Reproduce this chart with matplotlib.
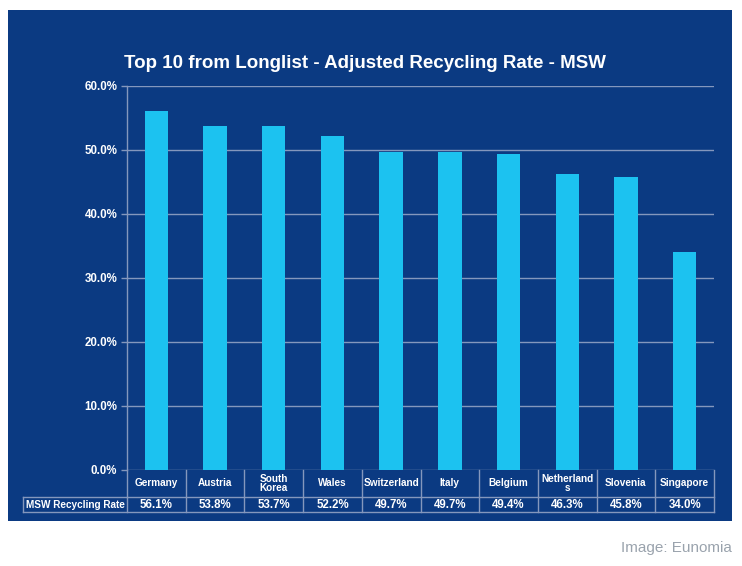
import matplotlib.pyplot as plt
from matplotlib.patches import Rectangle
import matplotlib.transforms as mtransforms

# data
countries = ['Germany', 'Austria', 'South\nKorea', 'Wales', 'Switzerland', 'Italy',
             'Belgium', 'Netherland\ns', 'Slovenia', 'Singapore']
rates = [56.1, 53.8, 53.7, 52.2, 49.7, 49.7, 49.4, 46.3, 45.8, 34.0]
yticks = [0, 10, 20, 30, 40, 50, 60]
row_label = 'MSW Recycling Rate'
title = 'Top 10 from Longlist - Adjusted Recycling Rate - MSW'

navy = '#0b3a82'
bar_color = '#1cc2f0'
line_color = '#8497bd'

plt.rcParams['font.family'] = ['Liberation Sans', 'DejaVu Sans']

fig = plt.figure(figsize=(7.42, 5.66), dpi=100)
fig.patch.set_facecolor('white')

# navy panel behind the chart (zorder below the axes)
fig.patches.append(Rectangle((8 / 742, 1 - 521 / 566), 724 / 742, 511 / 566,
                             transform=fig.transFigure, facecolor=navy,
                             edgecolor='none', zorder=-1))

ax = fig.add_axes([127 / 742, 1 - 470 / 566, 587 / 742, 384 / 566])
ax.set_facecolor(navy)

x = range(len(countries))
ax.bar(x, rates, width=0.4, color=bar_color, zorder=3)
ax.set_xlim(-0.5, len(countries) - 0.5)
ax.set_ylim(0, 60)
ax.set_yticks(yticks)
ax.set_yticklabels(['%.1f%%' % v for v in yticks], color='white',
                   fontsize=8.3, fontweight='bold')
ax.set_xticks([])
ax.tick_params(axis='y', length=4, color=line_color, width=1, pad=3)
ax.grid(axis='y', color=line_color, linewidth=1, zorder=1)
for side in ['top', 'right', 'bottom']:
    ax.spines[side].set_visible(False)
ax.spines['left'].set_color(line_color)
ax.spines['left'].set_linewidth(1)

# data table under the axes
r1 = -27 / 384
r2 = -42 / 384
lab_left = -104 / 587
kw = dict(transform=ax.transAxes, color=line_color, linewidth=1, clip_on=False)
ax.plot([0, 1], [r1, r1], **kw)
ax.plot([lab_left, 1], [r2, r2], **kw)
ax.plot([lab_left, 0], [r1, r1], **kw)
ax.plot([lab_left, lab_left], [r1, r2], **kw)
n = len(countries)
for i in range(n + 1):
    ax.plot([i / n, i / n], [0, r2], **kw)

blend = mtransforms.blended_transform_factory(ax.transData, ax.transAxes)
for i, (c, v) in enumerate(zip(countries, rates)):
    ax.text(i, r1 / 2, c, transform=blend, ha='center', va='center',
            color='white', fontsize=7.2, fontweight='bold', linespacing=0.95)
    ax.text(i, (r1 + r2) / 2, '%.1f%%' % v, transform=blend, ha='center',
            va='center', color='white', fontsize=8.3, fontweight='bold')
ax.text(lab_left / 2, (r1 + r2) / 2, row_label, transform=ax.transAxes,
        ha='center', va='center', color='white', fontsize=7.2, fontweight='bold')

fig.text(365 / 742, 1 - 63 / 566, title, ha='center', va='center',
         color='white', fontsize=13.5, fontweight='bold')
fig.text(732 / 742, 1 - 548 / 566, 'Image: Eunomia', ha='right', va='center',
         color='#9aa3ad', fontsize=11)

plt.savefig('out.png', dpi=100, facecolor=fig.get_facecolor())
